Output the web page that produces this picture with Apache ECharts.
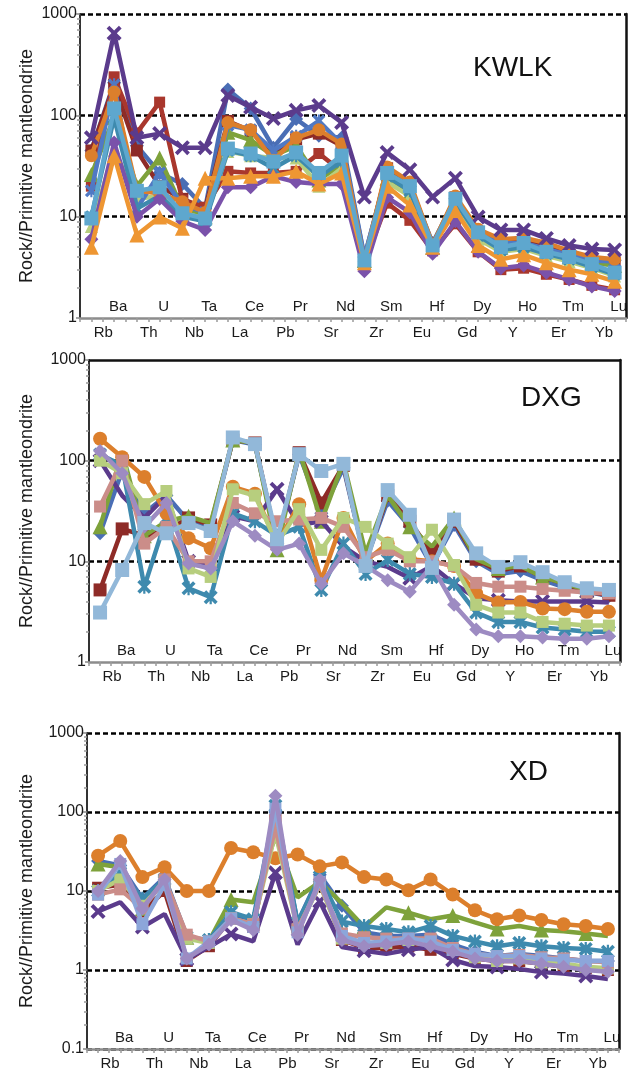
<!DOCTYPE html>
<html>
<head>
<meta charset="utf-8">
<script src="https://cdn.jsdelivr.net/npm/echarts@6/dist/echarts.min.js"></script>
<style>
html,body{margin:0;padding:0;background:#fff;}
#chart{width:635px;height:1074px;}
</style>
</head>
<body>
<div id="chart"></div>
<script>
// ---------- categories ----------
const elements = ['Rb','Ba','Th','U','Nb','Ta','La','Ce','Pb','Pr','Sr','Nd','Zr','Sm','Eu','Hf','Gd','Dy','Y','Ho','Er','Tm','Yb','Lu'];
const panelTitles = ['KWLK', 'DXG', 'XD'];
const yAxisTitle = 'Rock//Primitive mantleondrite';
const yMins = [1, 1, 0.1];
const yMax = 1000;

// ---------- KWLK ----------
const kwlk_blueDiamond   = [45, 210, 50, 27, 21, 12, 180, 117, 48, 92, 63, 60, 4.0, 28, 20, 5.5, 15, 7.2, 5.6, 5.6, 4.9, 4.3, 3.9, 3.7];
const kwlk_darkRedSquare = [45, 200, 45, 20, 15, 12, 88, 70, 42, 58, 66, 50, 3.5, 30, 21, 5.2, 15.5, 7.0, 5.6, 5.8, 5.1, 4.4, 3.9, 3.5];
const kwlk_redSquare     = [20, 240, 67, 135, 14.5, 12.4, 28, 27, 27, 28, 42, 28, 3.5, 13.6, 9.2, 4.6, 8.5, 4.5, 3.0, 3.1, 2.7, 2.4, 2.1, 1.9];
const kwlk_greenTri      = [26, 95, 20, 38, 12, 10, 68, 57, 40, 50, 23, 33, 3.7, 24, 17, 5.0, 13, 6.5, 5.0, 5.3, 4.5, 4.0, 3.5, 3.3];
const kwlk_lightGreen    = [8, 45, 15, 16, 11, 9.5, 44, 40, 38, 38, 20, 30, 3.5, 22, 16, 5.0, 12.5, 6.0, 4.5, 4.8, 4.1, 3.6, 3.1, 2.6];
const kwlk_blueStar      = [18, 200, 12, 27, 13, 11, 80, 72, 45, 62, 88, 52, 4.0, 27, 19, 5.0, 14, 7.0, 5.5, 5.5, 4.8, 4.2, 3.7, 3.6];
const kwlk_tealStar      = [10, 95, 12, 16, 10, 9, 45, 40, 30, 40, 25, 35, 3.6, 25, 18, 5.0, 14, 6.5, 4.7, 5.0, 4.3, 3.8, 3.2, 2.7];
const kwlk_orangeCircle  = [40, 170, 18, 17, 14, 11, 85, 72, 36, 60, 72, 52, 3.6, 31, 22, 5.3, 16, 7.5, 6.0, 6.2, 5.5, 4.6, 4.0, 3.8];
const kwlk_purpleX       = [60, 645, 60, 66, 48, 48, 157, 120, 93, 112, 125, 85, 15.6, 43, 29, 15.6, 24, 9.9, 7.4, 7.4, 6.1, 5.2, 4.8, 4.7];
const kwlk_purpleDiamond = [6, 54, 10, 15, 9, 7.4, 19.5, 19.5, 25, 22, 21, 21, 2.9, 15.5, 11, 4.3, 9, 4.5, 3.1, 3.3, 2.8, 2.4, 2.05, 1.85];
const kwlk_orangeTri     = [5, 40, 6.6, 9.9, 7.7, 24, 24, 25, 25, 28, 21, 27, 3.5, 20, 13, 5.0, 11.5, 5.2, 3.8, 4.2, 3.5, 3.0, 2.7, 2.3];
const kwlk_lightBlueSq   = [9.6, 117, 18, 19.5, 10.8, 9.6, 47, 42, 35, 43, 27, 40, 3.7, 27, 20, 5.2, 15, 7.0, 5.0, 5.5, 4.5, 4.0, 3.4, 2.8];

// ---------- DXG ----------
const dxg_blueDiamond    = [19, 80, 30, 45, 25, 22, 160, 145, 15, 115, 30, 85, 10, 40, 22, 9, 23, 10, 7.5, 8, 6.5, 5.5, 5, 4.5];
const dxg_darkRedSquare  = [5.2, 21, 18, 20, 27, 23, 160, 150, 15, 120, 38, 90, 10, 45, 25, 12, 25, 10.5, 8, 9, 7, 6, 5, 4.6];
const dxg_greenTri       = [22, 122, 18, 25, 28, 24, 160, 150, 13, 125, 25, 97, 12, 45, 22, 14, 27, 10.5, 8.5, 9, 7, 6, 5.2, 4.8];
const dxg_purpleX        = [100, 45, 27, 45, 10, 9, 28, 25, 52, 23, 25, 14, 10, 8.8, 6.8, 9, 6, 4.3, 4.1, 4.0, 4.0, 4.0, 4.0, 3.9];
const dxg_tealStar       = [115, 90, 5.6, 27, 5.4, 4.4, 30, 25, 18, 22, 5.2, 15, 7.5, 10.3, 7.5, 7, 6, 3.1, 2.5, 2.5, 2.2, 2.1, 2.0, 2.0];
const dxg_orangeCircle   = [165, 108, 69, 30, 17, 13.5, 55, 47, 15, 37, 6.5, 27, 10, 15, 10.5, 10, 9, 4.8, 3.9, 3.95, 3.4, 3.35, 3.15, 3.15];
const dxg_pink           = [35, 100, 15, 22, 10, 10, 38, 30, 25, 26, 27, 22, 11, 13, 10, 10, 9, 6.1, 5.6, 5.6, 5.3, 5.1, 4.9, 4.8];
const dxg_lightGreen     = [100, 75, 37, 50, 8.5, 7, 52, 45, 15, 33, 13, 27, 22, 15, 11, 20.6, 9.2, 3.7, 3.1, 3.1, 2.5, 2.4, 2.3, 2.3];
const dxg_lavenderDiam   = [125, 75, 22, 38, 9.5, 8.5, 25, 18, 13, 15, 6, 12, 9, 6.5, 5.0, 9, 3.7, 2.1, 1.8, 1.8, 1.75, 1.7, 1.7, 1.8];
const dxg_lightBlueSq    = [3.1, 8.2, 24, 19, 24, 20, 170, 146, 16.6, 116, 79, 93, 9, 51, 29, 8.6, 26, 12, 8.8, 9.8, 7.8, 6.2, 5.4, 5.2];

// ---------- XD ----------
const xd_blueDiamond     = [24, 21, 8, 15, 2.7, 2.2, 5, 4, 100, 4, 16, 6.5, 3, 2.7, 2.7, 2.8, 2.1, 1.7, 1.5, 1.6, 1.5, 1.4, 1.3, 1.3];
const xd_redSquare       = [11, 12, 5.5, 10, 1.3, 2, 4.5, 3.5, 80, 3.5, 13, 2.4, 1.9, 1.9, 2.0, 1.8, 1.6, 1.4, 1.3, 1.3, 1.2, 1.1, 1.05, 1.0];
const xd_greenTri        = [22, 20, 6, 14, 2.6, 2.3, 7.8, 7.2, 50, 8.3, 13, 7, 3.5, 6.2, 5.3, 4.4, 4.9, 4.0, 3.3, 3.6, 3.2, 3.1, 2.9, 2.7];
const xd_purpleX         = [5.5, 7.2, 3.5, 5.1, 1.37, 1.95, 2.85, 2.3, 17, 2.1, 7.4, 1.95, 1.75, 1.6, 1.8, 1.95, 1.34, 1.12, 1.09, 1.03, 0.94, 0.9, 0.84, 0.77];
const xd_tealStar        = [10, 17, 8, 14, 2.6, 2.4, 5.4, 4.4, 120, 4, 15, 4.1, 3.6, 3.3, 3.0, 3.6, 2.7, 2.3, 2.0, 2.2, 2.0, 1.9, 1.85, 1.7];
const xd_orangeCircle    = [28, 43, 15, 20, 10, 10, 35, 31, 26, 29, 20.5, 23, 15, 14, 10.2, 14, 9, 5.7, 4.4, 4.9, 4.3, 3.8, 3.6, 3.3];
const xd_lightGreen      = [10, 14, 6.5, 13, 2.5, 2.2, 4.5, 3.8, 55, 3.2, 12, 2.5, 2.2, 2.2, 2.4, 2.4, 1.8, 1.45, 1.3, 1.4, 1.25, 1.2, 1.1, 1.05];
const xd_pink            = [9, 10.5, 6, 14, 2.8, 2.3, 4.5, 3.8, 65, 3.3, 12, 2.9, 2.6, 2.5, 2.5, 2.5, 1.9, 1.6, 1.5, 1.55, 1.45, 1.4, 1.3, 1.25];
const xd_periwinkle      = [9, 22, 3.8, 12, 1.4, 2.3, 4.5, 3.5, 110, 3, 13, 2.7, 2.2, 2.3, 2.5, 2.3, 1.8, 1.6, 1.5, 1.5, 1.4, 1.35, 1.3, 1.3];
const xd_lavenderDiam    = [10, 24, 6, 14, 1.4, 2.1, 4.3, 3.2, 160, 2.8, 14, 2.4, 2.0, 2.1, 2.3, 2.0, 1.7, 1.4, 1.3, 1.3, 1.2, 1.1, 1.0, 0.95];

// ---------- styles (separate from data) ----------
const SYM = {
  diamond: 'diamond',
  square: 'rect',
  triangle: 'triangle',
  circle: 'circle',
  x: 'path://M0,1.8 L1.8,0 L5,3.2 L8.2,0 L10,1.8 L6.8,5 L10,8.2 L8.2,10 L5,6.8 L1.8,10 L0,8.2 L3.2,5 Z',
  star: 'path://M0,1.8 L1.8,0 L5,3.2 L8.2,0 L10,1.8 L6.8,5 L10,8.2 L8.2,10 L5,6.8 L1.8,10 L0,8.2 L3.2,5 Z M4.2,0 L5.8,0 L5.8,10 L4.2,10 Z',
  dash: 'path://M0,3.8 L10,3.8 L10,6.2 L0,6.2 Z'
};
const C = {
  blue: '#4A6EB5', darkRed: '#8E2B27', red: '#A9372D', green: '#7EA23B', lightGreen: '#B7CE7E',
  blueStar: '#5079C4', teal: '#3E8AAE', orange: '#DC7F2C', purple: '#5B3B8C', midPurple: '#7A52AA',
  lightOrange: '#EE9632', lightBlue: '#5EA7CE', paleBlue: '#92B8D9', pink: '#CB8D89',
  lavender: '#9D8BC2', periwinkle: '#8CA6DA'
};
const panelSeries = [
  [
    [kwlk_blueDiamond, C.blue, 'diamond', 14],
    [kwlk_darkRedSquare, C.darkRed, 'square', 12],
    [kwlk_redSquare, C.red, 'square', 11],
    [kwlk_greenTri, C.green, 'triangle', 15],
    [kwlk_lightGreen, C.lightGreen, 'triangle', 13],
    [kwlk_blueStar, C.blueStar, 'star', 13],
    [kwlk_tealStar, C.teal, 'star', 13],
    [kwlk_orangeCircle, C.orange, 'circle', 13],
    [kwlk_purpleX, C.purple, 'x', 15],
    [kwlk_purpleDiamond, C.midPurple, 'diamond', 14],
    [kwlk_orangeTri, C.lightOrange, 'triangle', 15],
    [kwlk_lightBlueSq, C.lightBlue, 'square', 14]
  ],
  [
    [dxg_blueDiamond, C.blue, 'diamond', 14],
    [dxg_darkRedSquare, C.darkRed, 'square', 13],
    [dxg_greenTri, C.green, 'triangle', 15],
    [dxg_purpleX, C.purple, 'x', 15],
    [dxg_tealStar, C.teal, 'star', 14],
    [dxg_orangeCircle, C.orange, 'circle', 14],
    [dxg_pink, C.pink, 'dash', 12],
    [dxg_lightGreen, C.lightGreen, 'dash', 12],
    [dxg_lavenderDiam, C.lavender, 'diamond', 14],
    [dxg_lightBlueSq, C.paleBlue, 'square', 14]
  ],
  [
    [xd_blueDiamond, C.blue, 'diamond', 14],
    [xd_redSquare, C.darkRed, 'square', 12],
    [xd_greenTri, C.green, 'triangle', 15],
    [xd_purpleX, C.purple, 'x', 15],
    [xd_tealStar, C.teal, 'star', 14],
    [xd_orangeCircle, C.orange, 'circle', 14],
    [xd_lightGreen, C.lightGreen, 'dash', 12],
    [xd_pink, C.pink, 'dash', 12],
    [xd_periwinkle, C.periwinkle, 'dash', 12],
    [xd_lavenderDiam, C.lavender, 'diamond', 14]
  ]
];

const gridBoxes = [
  {left: 80, width: 546, top: 14, height: 304},
  {left: 89, width: 531, top: 360, height: 302},
  {left: 87, width: 532, top: 733, height: 316}
];
const titlePos = [
  {left: 468, top: 49},
  {left: 516, top: 379},
  {left: 504, top: 753}
];
const nameGaps = [44, 53, 51];

const FONT = '"Liberation Sans", Arial, Helvetica, sans-serif';
const TXT = '#1a1a1a';

const grids = [], xAxes = [], yAxes = [], series = [], titles = [];
gridBoxes.forEach((g, p) => {
  grids.push(Object.assign({containLabel: false}, g));
  titles.push(Object.assign({text: panelTitles[p], textStyle: {fontFamily: FONT, fontSize: 28, fontWeight: 'normal', color: '#111'}}, titlePos[p]));
  // lower labels axis (Rb, Th, ...)
  xAxes.push({
    gridIndex: p, type: 'category', data: elements, position: 'bottom', boundaryGap: true,
    axisLine: {show: true, onZero: false, lineStyle: {color: '#8c8c8c', width: 2.5}},
    axisTick: {show: true, interval: 0, length: 4, inside: false, lineStyle: {color: '#9a9a9a', width: 1.5}},
    axisLabel: {interval: (i) => i % 2 === 0, margin: 7, fontFamily: FONT, fontSize: 15, color: TXT, padding: [0, 0, 0, 24]},
    splitLine: {show: false}
  });
  // upper (inside) labels axis (Ba, U, ...)
  xAxes.push({
    gridIndex: p, type: 'category', data: elements, position: 'bottom', boundaryGap: true,
    axisLine: {show: false},
    axisTick: {show: true, interval: 0, alignWithLabel: true, length: 4, inside: false, lineStyle: {color: '#9a9a9a', width: 1.5}},
    axisLabel: {inside: true, interval: (i) => i % 2 === 1, margin: 4, fontFamily: FONT, fontSize: 15, color: TXT, padding: [0, 0, 0, 8]},
    splitLine: {show: false}
  });
  // top border (solid only for DXG)
  xAxes.push({
    gridIndex: p, type: 'category', data: elements, position: 'top',
    axisLine: {show: p === 1, lineStyle: {color: '#111', width: 2.5}},
    axisTick: {show: false}, axisLabel: {show: false}, splitLine: {show: false}
  });
  yAxes.push({
    gridIndex: p, type: 'log', logBase: 10, min: yMins[p], max: yMax, position: 'left',
    name: yAxisTitle, nameLocation: 'middle', nameGap: nameGaps[p], nameRotate: 90, nameMoveOverlap: false,
    nameTextStyle: {fontFamily: FONT, fontSize: 18, color: TXT},
    axisLine: {show: true, onZero: false, lineStyle: {color: '#333', width: 2}},
    axisTick: {show: true, length: 4, lineStyle: {color: '#888', width: 1.5}},
    minorTick: {show: true, splitNumber: 9, length: 3, lineStyle: {color: '#999', width: 1.5}},
    axisLabel: {fontFamily: FONT, fontSize: 16, color: TXT, margin: 3, formatter: (v) => String(v)},
    splitLine: {show: true, showMinLine: p === 2, showMaxLine: p !== 1, lineStyle: {color: '#000', width: 2.5, type: [5, 3]}}
  });
  // right border
  yAxes.push({
    gridIndex: p, type: 'value', min: 0, max: 1, position: 'right',
    axisLine: {show: true, onZero: false, lineStyle: {color: '#111', width: 2.5}},
    axisTick: {show: false}, axisLabel: {show: false}, splitLine: {show: false}
  });
  panelSeries[p].forEach((s, k) => {
    const [vals, color, sym, size] = s;
    series.push({
      type: 'line', xAxisIndex: p * 3, yAxisIndex: p * 2,
      data: vals, symbol: SYM[sym], symbolSize: size, showSymbol: true,
      lineStyle: {color: color, width: 4.5},
      itemStyle: {color: color, borderWidth: 0},
      z: 3 + k, animation: false, silent: true
    });
  });
});

const chart = echarts.init(document.getElementById('chart'), null, {renderer: 'canvas'});
chart.setOption({
  backgroundColor: '#ffffff',
  animation: false,
  title: titles,
  grid: grids,
  xAxis: xAxes,
  yAxis: yAxes,
  series: series
});
</script>
</body>
</html>
